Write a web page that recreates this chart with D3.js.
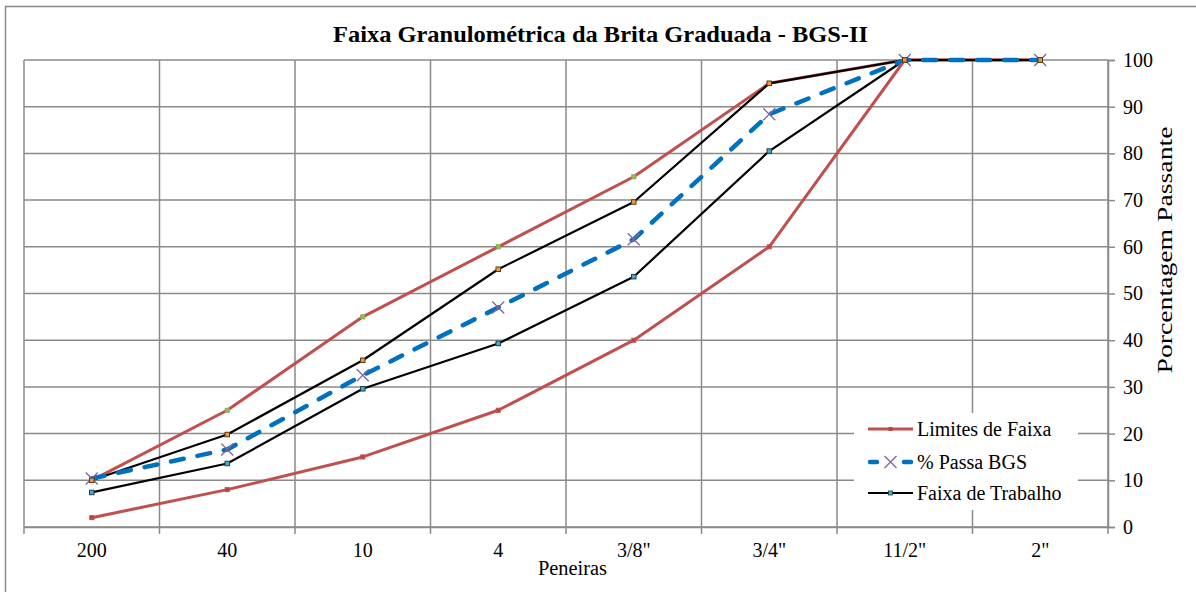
<!DOCTYPE html>
<html><head><meta charset="utf-8">
<script src="https://cdn.jsdelivr.net/npm/d3@7"></script>
<style>html,body{margin:0;padding:0;background:#fff;}svg{display:block;}</style>
</head><body><svg id="c" width="1196" height="592"></svg>
<script>
const categories = ["200","40","10","4","3/8\"","3/4\"","11/2\"","2\""];
const limiteSuperior = [10,25,45,60,75,95,100,100];
const limiteInferior = [2,8,15,25,40,60,100,100];
const passaBGS = [10.4,16.6,32.5,47.0,61.6,88.4,100,100];
const trabalhoSuperior = [10,19.8,35.7,55.2,69.6,95,100,100];
const trabalhoInferior = [7.4,13.6,29.6,39.3,53.6,80.5,100,100];
const yTicks = [0,10,20,30,40,50,60,70,80,90,100];
const legendLabels = ["Limites de Faixa","% Passa BGS","Faixa de Trabalho"];

function pickFont(list){
  const ctx=document.createElement("canvas").getContext("2d");
  const s="Faixa Granulométrica 0123456789 BGS";
  for(const f of list){
    for(const base of ["monospace","sans-serif"]){
      ctx.font=`20px ${base}`; const w0=ctx.measureText(s).width;
      ctx.font=`20px "${f}", ${base}`; const w1=ctx.measureText(s).width;
      if(Math.abs(w1-w0)>0.5) return `"${f}", serif`;
    }
  }
  return "serif";
}
const font = pickFont(["Liberation Serif","Times New Roman","Tinos","DejaVu Serif","Noto Serif"]);

const svg = d3.select("#c");
const L=24,R=1108,T=60,B=527;
const x = d3.scaleBand().domain(categories).range([L,R]).padding(0);
const y = d3.scaleLinear().domain([0,100]).range([B,T]);
const cx = c => x(c)+x.bandwidth()/2;
const grid = "#8a8a8a";

svg.append("rect").attr("x",5.5).attr("y",6.5).attr("width",1300).attr("height",700)
  .attr("fill","#fff").attr("stroke",grid).attr("stroke-width",1.5);

svg.append("text").attr("x",600.5).attr("y",42).attr("text-anchor","middle")
  .style("font-family",font).attr("font-weight","bold").attr("font-size",23)
  .attr("textLength",535).attr("lengthAdjust","spacingAndGlyphs")
  .text("Faixa Granulométrica da Brita Graduada - BGS-II");

svg.append("g").selectAll("line").data(yTicks).join("line")
  .attr("x1",L).attr("x2",R).attr("y1",d=>y(d)).attr("y2",d=>y(d))
  .attr("stroke",grid).attr("stroke-width",1.5);
const bounds = categories.map(c=>x(c)).concat([R]);
svg.append("g").selectAll("line").data(bounds).join("line")
  .attr("x1",d=>d).attr("x2",d=>d).attr("y1",T).attr("y2",B+7)
  .attr("stroke",grid).attr("stroke-width",1.5);

const yAxis = d3.axisRight(y).tickValues(yTicks).tickSize(7).tickPadding(8);
const ya = svg.append("g").attr("transform",`translate(${R},0)`).call(yAxis);
ya.select(".domain").attr("stroke",grid).attr("stroke-width",1.5);
ya.selectAll(".tick line").attr("stroke",grid).attr("stroke-width",1.5);
ya.selectAll("text").style("font-family",font).attr("font-size",20).attr("fill","#000");

const xAxis = d3.axisBottom(x).tickSize(0).tickPadding(16);
const xa = svg.append("g").attr("transform",`translate(0,${B})`).call(xAxis);
xa.select(".domain").attr("stroke",grid).attr("stroke-width",1.5);
xa.selectAll("text").style("font-family",font).attr("font-size",20).attr("fill","#000");

svg.append("text").attr("x",572.5).attr("y",575).attr("text-anchor","middle")
  .style("font-family",font).attr("font-size",20)
  .attr("textLength",69).attr("lengthAdjust","spacingAndGlyphs").text("Peneiras");
svg.append("text").attr("transform","translate(1171.5,250) rotate(-90)").attr("text-anchor","middle")
  .style("font-family",font).attr("font-size",21)
  .attr("textLength",247).attr("lengthAdjust","spacingAndGlyphs").text("Porcentagem Passante");

const line = d3.line().x((d,i)=>cx(categories[i])).y(d=>y(d));
const red="#C0504D", blue="#0070C0", purple="#8064A2";

function drawLine(data,color,w,dash){
  svg.append("path").datum(data).attr("d",line).attr("fill","none")
    .attr("stroke",color).attr("stroke-width",w).attr("stroke-linejoin","round")
    .attr("stroke-linecap",dash?"round":"butt").attr("stroke-dasharray",dash||null);
}
function drawSquares(data,fill,stroke,s){
  svg.append("g").selectAll("rect").data(data).join("rect")
    .attr("x",(d,i)=>cx(categories[i])-s/2).attr("y",d=>y(d)-s/2)
    .attr("width",s).attr("height",s).attr("fill",fill).attr("stroke",stroke).attr("stroke-width",1);
}
function drawX(data){
  const s=6;
  const g=svg.append("g");
  data.forEach((d,i)=>{
    const px=cx(categories[i]), py=y(d);
    g.append("path").attr("d",`M${px-s},${py-s}L${px+s},${py+s}M${px-s},${py+s}L${px+s},${py-s}`)
      .attr("stroke",purple).attr("stroke-width",1.3).attr("fill","none");
  });
}

drawLine(limiteInferior,red,3);
drawLine(limiteSuperior,red,3);
drawSquares(limiteInferior,"#B84340",red,4);
drawSquares(limiteSuperior,"#9BBB59","#8aa84a",4);
drawLine(trabalhoSuperior,"#000",2.2);
drawLine(trabalhoInferior,"#000",2.2);
drawLine(passaBGS,blue,4.5,"13,14");
drawX(passaBGS);
drawSquares(trabalhoInferior,"#4BACC6","#1f3f4a",4.5);
drawSquares(trabalhoSuperior,"#F79646","#5a3a10",4.5);

const lg = svg.append("g");
lg.append("rect").attr("x",854).attr("y",413).attr("width",224).attr("height",97).attr("fill","#fff");
const rows=[429,462,493];
lg.append("line").attr("x1",868).attr("x2",913).attr("y1",rows[0]).attr("y2",rows[0]).attr("stroke",red).attr("stroke-width",3);
lg.append("rect").attr("x",888.5).attr("y",rows[0]-2).attr("width",4).attr("height",4).attr("fill","#B84340");
lg.append("line").attr("x1",870).attr("x2",911).attr("y1",rows[1]).attr("y2",rows[1]).attr("stroke",blue).attr("stroke-width",4.5).attr("stroke-linecap","round").attr("stroke-dasharray","7,27");
lg.append("path").attr("d",`M${890.5-6},${rows[1]-6}L${890.5+6},${rows[1]+6}M${890.5-6},${rows[1]+6}L${890.5+6},${rows[1]-6}`).attr("stroke",purple).attr("stroke-width",1.3);
lg.append("line").attr("x1",868).attr("x2",913).attr("y1",rows[2]).attr("y2",rows[2]).attr("stroke","#000").attr("stroke-width",2.2);
lg.append("rect").attr("x",888.5).attr("y",rows[2]-2).attr("width",4).attr("height",4).attr("fill","#4BACC6").attr("stroke","#1f3f4a").attr("stroke-width",0.8);
lg.selectAll("text.l").data(legendLabels).join("text").attr("x",917).attr("y",(d,i)=>rows[i]+7)
  .style("font-family",font).attr("font-size",20).text(d=>d);
</script></body></html>
